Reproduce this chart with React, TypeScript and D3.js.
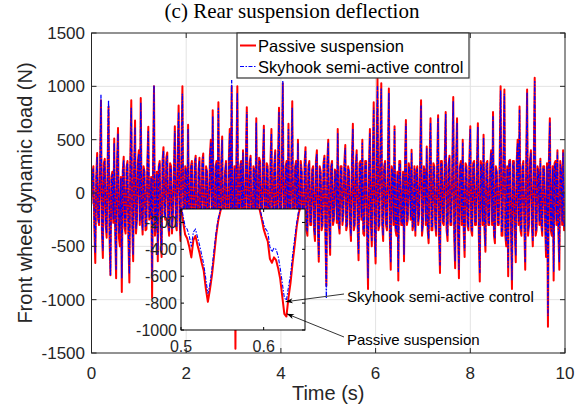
import React from 'react';
import * as d3 from 'd3';

// ---- data ----
// samples every 0.04 s starting at t = 0
const coarseStep = 0.04;
const passiveLoad = [
  -100, 250, -656, 375, -300, 870, -610, 320, -420, 810, -770, 200, 510, -800, 610, -500, -928, 340, -380, 300, -840, 870, -640, 680, -250,
  400, 890, -390, 200, -340, 620, -200, -985, 1000, -300, -640, 300, -600, 430, -250, 380, -400, 250, -200, 625, -350, 820, -450, 1000, -500,
  200, 640, -600, 300, -400, 350, -700, 330, -350, 370, -550, 200, -300, 500, 775, -650, 300, 850, -500, 530, -400, 300, -750, 600, 1000,
  -600, -1460, 1000, -400, 300, 400, -500, 805, -350, 350, -600, 200, 700, -450, 300, -300, 630, -550, 250, -400, 600, -350, 400, -500, 800,
  -300, 1030, -600, 300, 650, -400, 860, -500, 300, 500, -350, 200, -500, 430, -400, 300, -300, 250, -450, 400, -645, 200, -300, 350, -870,
  500, -580, 300, -250, 200, 600, -380, 250, -200, 450, -300, 200, -450, 650, -300, 400, -630, 300, 500, -400, 300, -900, 600, -500, 850,
  -660, 1070, -300, 1030, -450, 300, -350, 980, -720, 200, 625, -400, -820, 300, -300, -640, 685, -250, 200, 405, -300, -400, 250, -200, 870,
  -300, 200, 435, -470, 700, -350, 250, -400, 730, -750, 300, -300, 760, -450, 350, -300, 900, -705, 700, -800, 300, 500, -600, 250, -350,
  625, -400, 300, -300, 655, -830, 250, 545, -550, 300, -300, 400, 760, -470, 200, -300, 1000, -400, 970, -500, -780, 310, -900, 300, -650,
  500, 810, -400, 300, -720, 970, -300, 400, -500, 1080, -350, 200, 320, -400, 250, -600, -1255, 700, -400, -820, 300, 400, -720, 200, 400, -300,
];
// samples at the mid points (t = 0.02 + k * 0.04)
const passiveMid = [
  180, -320, 150, -250, 220, -350, 280, -300, 260, -400, 150, -280, -350, 300, -420, 150, 200, -330, 240, -450, 330, -300, 260, -380, 300,
  -300, -200, 250, -350, 300, -250, 150, 280, -400, 200, 250, -350, 300, -200, 330, -300, 280, -380, 200, -300, 350, -250, 400, -300, 250,
  -350, -250, 250, -300, 280, -400, 220, -280, 300, -300, 250, -320, 350, -200, -300, 250, -350, -300, 280, -380, 200, -300, 300, -250, -400,
  250, 300, -300, 250, -380, -250, 300, -300, 280, -350, 250, -300, -250, 330, -280, 300, -350, 280, -380, 300, -320, 260, -400, 300, -350,
  300, -350, 250, -300, -280, 300, -380, 250, -300, -250, 300, -320, 280, -350, 250, -300, 220, -350, 300, -300, 250, -350, 280, -400, 300,
  -300, 250, -300, 220, -280, -300, 250, -300, 280, -350, 250, -300, 300, -350, 250, -300, 280, -250, -380, 300, -350, 250, -300, 280, -400,
  300, -350, 400, -300, 250, -300, 300, -400, 250, -300, -350, 200, 300, -300, 200, 250, -300, 280, -250, -350, 250, 200, -300, 300, -400,
  250, -300, -350, 300, -350, 280, -300, 250, -400, 300, -280, 300, -350, 250, -300, 280, -400, 300, -350, 250, -300, -350, 280, -300, 300,
  -350, 280, -300, 250, -400, 300, -300, -350, 280, -300, 250, -300, -400, 250, -300, 300, -400, 350, -400, 250, 300, -350, 300, -350, 300,
  -300, -350, 250, -300, 280, -400, 300, -300, 280, -400, 250, -300, -300, 250, -300, 280, 300, -350, 250, 280, -300, -350, 300, -300, -350,
];
const skyhookLoad = [
  -120, 230, -560, 340, -280, 920, -540, 300, -380, 870, -770, 180, 470, -720, 560, -280, -800, 310, -340, 280, -760, 800, -580, 620, -230,
  370, 850, -350, 190, -300, 580, -190, -800, 1010, -280, -580, 280, -540, 400, -230, 350, -360, 230, -190, 580, -320, 760, -400, 930, -450,
  190, 600, -540, 280, -360, 330, -630, 300, -320, 340, -500, 190, -280, 470, 720, -580, 280, 800, -450, 500, -360, 280, -680, 560, 1060,
  -540, -1200, 940, -360, 280, 380, -450, 760, -320, 330, -540, 190, 660, -400, 280, -280, 600, -500, 230, -360, 560, -320, 380, -450, 760,
  -280, 1050, -540, 280, 600, -360, 800, -450, 280, 470, -320, 190, -450, 400, -360, 280, -280, 230, -400, 370, -600, 190, -280, 330, -985,
  470, -520, 280, -230, 190, 560, -340, 230, -190, 420, -280, 190, -400, 600, -280, 370, -570, 280, 470, -360, 280, -800, 560, -450, 800,
  -600, 1000, -280, 980, -400, 280, -320, 940, -650, 190, 600, -360, -740, 280, -280, -580, 650, -230, 190, 380, -280, -360, 230, -190, 820,
  -280, 190, 420, -430, 660, -320, 230, -360, 700, -680, 280, -280, 740, -400, 330, -280, 860, -640, 660, -720, 280, 470, -540, 230, -320,
  600, -360, 280, -280, 620, -750, 230, 520, -500, 280, -280, 380, 720, -430, 190, -280, 960, -360, 930, -450, -700, 300, -820, 280, -590,
  470, 780, -360, 280, -650, 940, -280, 380, -450, 1050, -320, 190, 300, -360, 230, -540, -1150, 660, -360, -740, 280, 380, -650, 190, 380, -280,
];
const skyhookMid = [
  160, -290, 140, -230, 200, -320, 250, -280, 240, -360, 140, -250, -320, 270, -380, 140, 180, -300, 220, -400, 300, -270, 240, -340, 270,
  -270, -180, 230, -320, 270, -230, 140, 250, -360, 180, 230, -320, 270, -180, 300, -270, 250, -340, 180, -270, 320, -230, 360, -270, 230,
  -320, -230, 230, -270, 250, -360, 200, -250, 270, -270, 230, -290, 320, -180, -270, 230, -320, -270, 250, -340, 180, -270, 270, -230, -360,
  230, 270, -270, 230, -340, -230, 270, -270, 250, -320, 230, -270, -230, 300, -250, 270, -320, 250, -340, 270, -290, 240, -360, 270, -320,
  270, -320, 230, -270, -250, 270, -340, 230, -270, -230, 270, -290, 250, -320, 230, -270, 200, -320, 270, -270, 230, -320, 250, -360, 270,
  -270, 230, -270, 200, -250, -270, 230, -270, 250, -320, 230, -270, 270, -320, 230, -270, 250, -230, -340, 270, -320, 230, -270, 250, -360,
  270, -320, 360, -270, 230, -270, 270, -360, 230, -270, -320, 180, 270, -270, 180, 230, -270, 250, -230, -320, 230, 180, -270, 270, -360,
  230, -270, -320, 270, -320, 250, -270, 230, -360, 270, -250, 270, -320, 230, -270, 250, -360, 270, -320, 230, -270, -320, 250, -270, 270,
  -320, 250, -270, 230, -360, 270, -270, -320, 250, -270, 230, -270, -360, 230, -270, 270, -360, 320, -360, 230, 270, -320, 270, -320, 270,
  -270, -320, 230, -270, 250, -360, 270, -270, 250, -360, 230, -270, -270, 230, -270, 250, 270, -320, 230, 250, -270, -320, 270, -270, -320,
];

const insetStart = 0.5;
const insetStep = 0.0025;
const insetPassive = [
  -90, -190, -290, -320, -380, -460, -330, -300, -370, -430, -500, -560, -690, -790, -700, -590, -450, -300, -190, -120,
  -60, 60, 180, 40, 250, 120, 300, 80, 200, -20, 150, 40, 220, 60, 120, -10, -40, -70, -100, -170,
  -250, -300, -340, -470, -500, -460, -480, -540, -620, -750, -880, -900, -760, -650, -500, -370, -230, -130, -70, 20, 100,
];
const insetSkyhook = [
  -60, -150, -230, -250, -300, -380, -270, -250, -310, -370, -440, -510, -620, -730, -660, -540, -400, -270, -170, -110,
  -50, 70, 170, 60, 230, 140, 280, 100, 190, 0, 160, 60, 200, 70, 110, 0, -30, -60, -90, -150,
  -210, -250, -270, -380, -420, -390, -400, -450, -540, -650, -760, -780, -680, -590, -440, -320, -200, -110, -50, 30, 110,
];

const xTicks = [0, 2, 4, 6, 8, 10];
const yTicks = [-1500, -1000, -500, 0, 500, 1000, 1500];
const insetXTicks = [0.5, 0.6];
const insetYTicks = [-1000, -800, -600, -400, -200];
const seriesNames = ['Passive suspension', 'Skyhook semi-active control'];
const titleText = '(c) Rear suspension deflection';
const xLabel = 'Time (s)';
const yLabel = 'Front wheel dynamic load (N)';

const SANS = '"Liberation Sans", Arial, Helvetica, sans-serif';
const SERIF = '"Liberation Serif", "Times New Roman", serif';
const AX = '#262626';
const RED = '#ff0000';
const BLUE = '#0000ff';
const DASH = '4,1.5,1.5,1.5';

type Pt = [number, number];
function mergeSamples(base: number[], mid: number[]): Pt[] {
  const out: Pt[] = [];
  base.forEach((v, i) => {
    out.push([i * coarseStep, v]);
    if (i < mid.length) out.push([i * coarseStep + coarseStep / 2, mid[i]]);
  });
  return out;
}

export default function App() {
  const W = 584, H = 405;
  const L = 91.5, R = 565, T = 33, B = 353;
  const x = d3.scaleLinear().domain([0, 10]).range([L, R]);
  const y = d3.scaleLinear().domain([-1500, 1500]).range([B, T]);

  const iL = 181, iR = 305, iT = 209, iB = 330;
  const ix = d3.scaleLinear().domain([0.5, 0.65]).range([iL, iR]);
  const iy = d3.scaleLinear().domain([-1000, -100]).range([iB, iT]);

  const passivePts = mergeSamples(passiveLoad, passiveMid);
  const skyhookPts = mergeSamples(skyhookLoad, skyhookMid);

  const mainLine = d3.line<Pt>().x(d => x(d[0])).y(d => y(d[1]));
  const insetLine = d3.line<number>().x((_, i) => ix(insetStart + i * insetStep)).y(d => iy(d));

  const tl = 5;
  const itl = 3;

  return (
    <svg width={W} height={H} style={{ position: 'absolute', left: 0, top: 0, background: '#fff' }}>
      <defs>
        <clipPath id="mainClip"><rect x={L} y={T} width={R - L} height={B - T} /></clipPath>
        <clipPath id="insetClip"><rect x={iL} y={iT} width={iR - iL} height={iB - iT} /></clipPath>
        <marker id="arrowHead" viewBox="-10 -5 12 10" markerWidth={10} markerHeight={8} refX={0} refY={0} orient="auto" markerUnits="userSpaceOnUse">
          <path d="M0,0 L-9,-3.2 L-6.5,0 L-9,3.2 Z" fill="#000" />
        </marker>
      </defs>
      <rect x={0} y={0} width={W} height={H} fill="#fff" />

      {/* title */}
      <text x={292} y={17.5} textAnchor="middle" fontFamily={SERIF} fontSize={21} fill="#000">{titleText}</text>

      {/* grid */}
      <g stroke="#e3e3e3" strokeWidth={1}>
        {xTicks.slice(1, -1).map(t => <line key={'gx' + t} x1={x(t)} x2={x(t)} y1={T} y2={B} />)}
        {yTicks.slice(1, -1).map(t => <line key={'gy' + t} x1={L} x2={R} y1={y(t)} y2={y(t)} />)}
      </g>

      {/* series */}
      <g clipPath="url(#mainClip)">
        <path d={mainLine(passivePts) || ''} fill="none" stroke={RED} strokeWidth={2} strokeLinejoin="round" />
        <path d={mainLine(skyhookPts) || ''} fill="none" stroke={BLUE} strokeWidth={1.3} strokeDasharray={DASH} />
      </g>

      {/* axes box and ticks */}
      <rect x={L} y={T} width={R - L} height={B - T} fill="none" stroke={AX} strokeWidth={1} />
      <g stroke={AX} strokeWidth={1}>
        {xTicks.map(t => (
          <g key={'xt' + t}>
            <line x1={x(t)} x2={x(t)} y1={B} y2={B - tl} />
            <line x1={x(t)} x2={x(t)} y1={T} y2={T + tl} />
          </g>
        ))}
        {yTicks.map(t => (
          <g key={'yt' + t}>
            <line x1={L} x2={L + tl} y1={y(t)} y2={y(t)} />
            <line x1={R} x2={R - tl} y1={y(t)} y2={y(t)} />
          </g>
        ))}
      </g>
      <g fontFamily={SANS} fontSize={17} fill={AX}>
        {xTicks.map(t => (
          <text key={'xl' + t} x={x(t)} y={379} textAnchor="middle">{t}</text>
        ))}
        {yTicks.map(t => (
          <text key={'yl' + t} x={85} y={y(t) + 6} textAnchor="end">{t}</text>
        ))}
      </g>
      <text x={(L + R) / 2} y={400} textAnchor="middle" fontFamily={SANS} fontSize={20} fill={AX}>{xLabel}</text>
      <text transform={`translate(32,${(T + B) / 2}) rotate(-90)`} textAnchor="middle" fontFamily={SANS} fontSize={20} fill={AX}>{yLabel}</text>

      {/* inset */}
      <rect x={iL} y={iT} width={iR - iL} height={iB - iT} fill="#fff" />
      <g clipPath="url(#insetClip)">
        <path d={insetLine(insetPassive) || ''} fill="none" stroke={RED} strokeWidth={2} strokeLinejoin="round" />
        <path d={insetLine(insetSkyhook) || ''} fill="none" stroke={BLUE} strokeWidth={1.1} strokeDasharray={DASH} />
      </g>
      <rect x={iL} y={iT} width={iR - iL} height={iB - iT} fill="none" stroke="#000" strokeWidth={1} />
      <g stroke="#000" strokeWidth={1}>
        {insetXTicks.map(t => (
          <g key={'ixt' + t}>
            <line x1={ix(t)} x2={ix(t)} y1={iB} y2={iB - itl} />
            <line x1={ix(t)} x2={ix(t)} y1={iT} y2={iT + itl} />
          </g>
        ))}
        {insetYTicks.map(t => (
          <g key={'iyt' + t}>
            <line x1={iL} x2={iL + itl} y1={iy(t)} y2={iy(t)} />
            <line x1={iR} x2={iR - itl} y1={iy(t)} y2={iy(t)} />
          </g>
        ))}
      </g>
      <g fontFamily={SANS} fontSize={16} fill={AX}>
        {insetXTicks.map(t => (
          <text key={'ixl' + t} x={ix(t)} y={352} textAnchor="middle">{t.toFixed(1)}</text>
        ))}
        {insetYTicks.map(t => (
          <text key={'iyl' + t} x={177} y={iy(t) + 5.5} textAnchor="end">{t}</text>
        ))}
      </g>

      {/* annotations */}
      <g stroke="#000" strokeWidth={0.8}>
        <line x1={344} y1={294} x2={ix(0.6265)} y2={iy(-790)} markerEnd="url(#arrowHead)" />
        <line x1={344} y1={337} x2={ix(0.628)} y2={iy(-880)} markerEnd="url(#arrowHead)" />
      </g>
      <g fontFamily={SANS} fontSize={15} fill="#000">
        <text x={347} y={301.5}>{seriesNames[1]}</text>
        <text x={347} y={344.5}>{seriesNames[0]}</text>
      </g>

      {/* legend */}
      <rect x={237} y={33} width={232} height={45} fill="#fff" stroke="#333" strokeWidth={1.2} />
      <line x1={240} x2={256} y1={45.5} y2={45.5} stroke={RED} strokeWidth={2} />
      <line x1={240} x2={257} y1={66.5} y2={66.5} stroke={BLUE} strokeWidth={1.2} strokeDasharray={DASH} />
      <g fontFamily={SANS} fontSize={16.5} fill="#000">
        <text x={258} y={51.5}>{seriesNames[0]}</text>
        <text x={258} y={72.5}>{seriesNames[1]}</text>
      </g>
    </svg>
  );
}
